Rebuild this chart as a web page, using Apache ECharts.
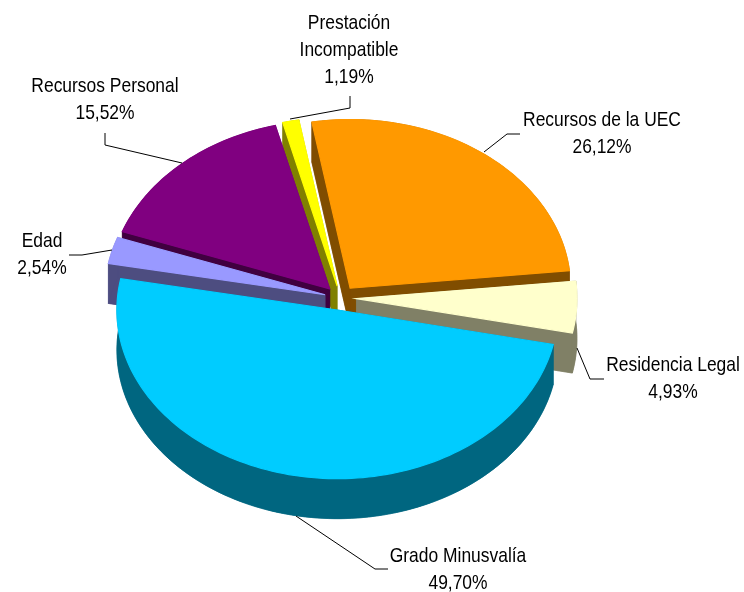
<!DOCTYPE html>
<html><head><meta charset="utf-8">
<style>html,body{margin:0;padding:0;background:#fff}#c{width:744px;height:592px}</style>
<script src="https://cdn.jsdelivr.net/npm/echarts@6/dist/echarts.min.js"></script>
</head><body><div id="c"></div>
<script>
// Data, clockwise from the start angle
var names = ['Recursos de la UEC', 'Residencia Legal', 'Grado Minusvalía', 'Edad', 'Recursos Personal', 'Prestación\nIncompatible'];
var values = [26.12, 4.93, 49.70, 2.54, 15.52, 1.19];
var labels = ['26,12%', '4,93%', '49,70%', '2,54%', '15,52%', '1,19%'];

// Styles
var topColors = ['#FF9900', '#FFFFCC', '#00CCFF', '#9999FF', '#800080', '#FFFF00'];
var wallColors = ['#804D00', '#808066', '#006680', '#4D4D80', '#400040', '#808000'];

// Layout
var CX = 340.5, CY = 298, RX = 220.5, TILT = 0.765, DEPTH = 40, EXPLODE = 16, START = -10;
var FONT = '"Liberation Sans", Arial, sans-serif', FS = 21, NARROW = 0.83;
var labelBoxes = [
  {x: 602, y: 134}, {x: 673, y: 379}, {x: 458, y: 570},
  {x: 42, y: 255}, {x: 105, y: 100}, {x: 349, y: 50}
];
var leaders = [
  [[484, 152], [507, 134], [520, 134]],
  [[577, 348], [590, 379], [604, 379]],
  [[296, 516], [375, 569], [388, 569]],
  [[69, 255], [82, 255], [112, 250]],
  [[105, 133], [105, 145], [182, 163]],
  [[290, 119], [350, 108], [350, 96]]
];

var total = values.reduce(function (a, b) { return a + b; }, 0);
var starts = [];
values.reduce(function (acc, v, i) { starts[i] = acc; return acc + v; }, 0);

function pt(cx, cy, deg, r) {
  var a = deg * Math.PI / 180;
  return [cx + r * Math.sin(a), cy - r * Math.cos(a) * TILT];
}
function shift(p) { return [p[0], p[1] + DEPTH]; }

function renderItem(params, api) {
  var i = params.dataIndex, v = api.value(0), s = api.value(1);
  var a0 = START + s / total * 360, a1 = a0 + v / total * 360, mid = (a0 + a1) / 2;
  var c = pt(CX, CY, mid, EXPLODE);
  var arc = [], n = Math.max(4, Math.ceil((a1 - a0) / 1.5));
  for (var k = 0; k <= n; k++) arc.push(pt(c[0], c[1], a0 + (a1 - a0) * k / n, RX));
  var topPts = [c].concat(arc);
  var wall = {stroke: wallColors[i], lineWidth: 0.5, fill: wallColors[i]};
  var z = Math.round(c[1]) * 2;
  function poly(points, style, zz) { return {type: 'polygon', z2: zz, shape: {points: points}, style: style}; }
  return {type: 'group', children: [
    poly(topPts.map(shift), wall, z),
    poly([c, arc[0], shift(arc[0]), shift(c)], wall, z),
    poly([c, arc[n], shift(arc[n]), shift(c)], wall, z),
    poly(arc.concat(arc.map(shift).reverse()), wall, z),
    poly(topPts, {fill: topColors[i], stroke: topColors[i], lineWidth: 1.2}, z + 1)
  ]};
}

function labelItem(params, api) {
  var i = params.dataIndex, box = labelBoxes[i];
  return {type: 'group', children: [
    {type: 'polyline', shape: {points: leaders[i]}, style: {stroke: '#000', lineWidth: 1, fill: null}},
    {type: 'text', x: box.x, y: box.y, scaleX: NARROW, style: {
      text: names[i] + '\n' + labels[i], font: FS + 'px ' + FONT, fill: '#000',
      align: 'center', verticalAlign: 'middle', lineHeight: 27
    }}
  ]};
}

var chart = echarts.init(document.getElementById('c'), null, {renderer: 'canvas'});
chart.setOption({
  animation: false,
  backgroundColor: '#fff',
  series: [
    {type: 'custom', coordinateSystem: 'none', renderItem: renderItem, z: 2, silent: true,
      data: values.map(function (v, i) { return {name: names[i], value: [v, starts[i]]}; })},
    {type: 'custom', coordinateSystem: 'none', renderItem: labelItem, z: 3, silent: true,
      data: values.map(function (v, i) { return {name: names[i], value: [v]}; })}
  ]
});
</script></body></html>
